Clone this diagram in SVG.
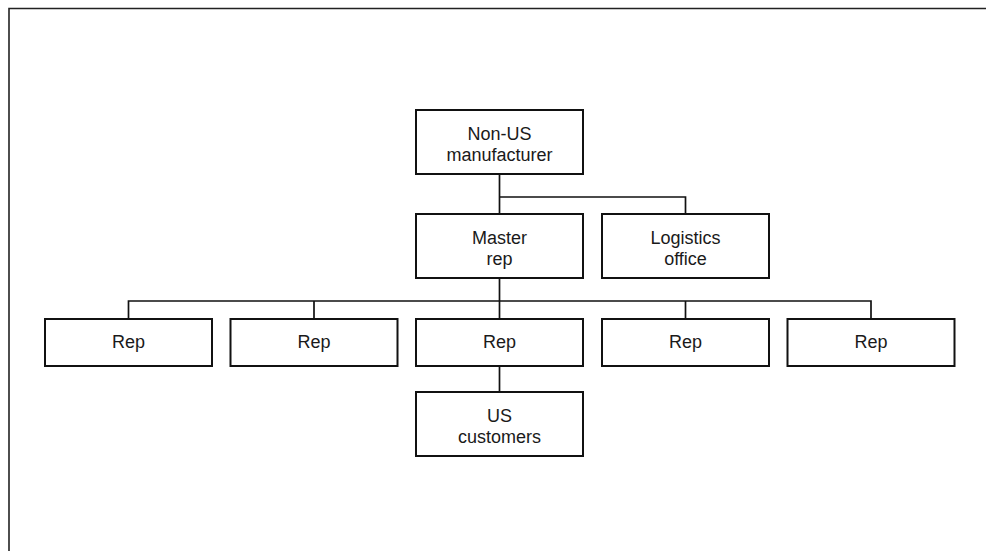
<svg xmlns="http://www.w3.org/2000/svg" width="986" height="551" viewBox="0 0 986 551">
  <style>
    .box { fill: #ffffff; stroke: #111111; stroke-width: 2; }
    .lbl { font-family: "Liberation Sans", Arial, sans-serif; font-size: 18px; fill: #1a1a1a; text-anchor: middle; }
    .wire { fill: none; stroke: #111111; stroke-width: 1.7; }
    .frame { fill: none; stroke: #222222; stroke-width: 1.6; }
  </style>
  <rect x="0" y="0" width="986" height="551" fill="#ffffff"/>
  <!-- page frame, open to the right and bottom -->
  <path class="frame" d="M9,551 V8.5 H986"/>

  <g id="connectors">
    <path class="wire" d="M499.5,174 V197 M499.5,197 H685.5 V214 M499.5,197 V214"/>
    <path class="wire" d="M499.5,278 V301 M128.5,319 V301 H871 V319 M314,301 V319 M499.5,301 V319 M685.5,301 V319"/>
    <path class="wire" d="M499.5,366 V392"/>
  </g>

  <g id="manufacturer">
    <rect class="box" x="416" y="110" width="167" height="64"/>
    <text class="lbl" x="499.5" y="140">Non-US</text>
    <text class="lbl" x="499.5" y="161">manufacturer</text>
  </g>
  <g id="master-rep">
    <rect class="box" x="416" y="214" width="167" height="64"/>
    <text class="lbl" x="499.5" y="244">Master</text>
    <text class="lbl" x="499.5" y="265">rep</text>
  </g>
  <g id="logistics">
    <rect class="box" x="602" y="214" width="167" height="64"/>
    <text class="lbl" x="685.5" y="244">Logistics</text>
    <text class="lbl" x="685.5" y="265">office</text>
  </g>
  <g id="rep-1">
    <rect class="box" x="45" y="319" width="167" height="47"/>
    <text class="lbl" x="128.5" y="348">Rep</text>
  </g>
  <g id="rep-2">
    <rect class="box" x="230.5" y="319" width="167" height="47"/>
    <text class="lbl" x="314" y="348">Rep</text>
  </g>
  <g id="rep-3">
    <rect class="box" x="416" y="319" width="167" height="47"/>
    <text class="lbl" x="499.5" y="348">Rep</text>
  </g>
  <g id="rep-4">
    <rect class="box" x="602" y="319" width="167" height="47"/>
    <text class="lbl" x="685.5" y="348">Rep</text>
  </g>
  <g id="rep-5">
    <rect class="box" x="787.5" y="319" width="167" height="47"/>
    <text class="lbl" x="871" y="348">Rep</text>
  </g>
  <g id="us-customers">
    <rect class="box" x="416" y="392" width="167" height="64"/>
    <text class="lbl" x="499.5" y="422">US</text>
    <text class="lbl" x="499.5" y="443">customers</text>
  </g>
</svg>
